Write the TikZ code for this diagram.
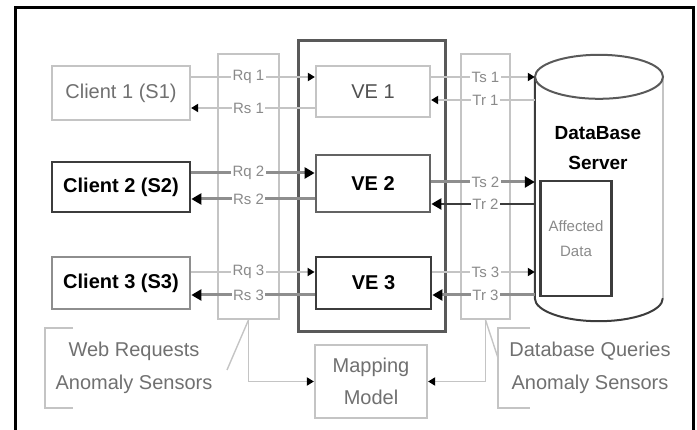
\documentclass[tikz,border=0pt]{standalone}
\usepackage{fontspec}
\setmainfont{Liberation Sans}
\usetikzlibrary{positioning, arrows.meta}

\definecolor{paleline}{HTML}{C4C4C4}
\definecolor{midline}{HTML}{8E8E8E}
\definecolor{darkline}{HTML}{3C3C3C}
\definecolor{greytext}{HTML}{707070}
\definecolor{tagtext}{HTML}{8A8A8A}

\begin{document}
\begin{tikzpicture}[
    x=1pt, y=-1pt,
    % Block Styles
    lightbox/.style={rectangle, draw=paleline, line width=2.2pt, fill=white, inner sep=0pt, align=center, text=greytext, font=\fontsize{20}{32}\selectfont},
    darkbox/.style={rectangle, draw=darkline, line width=2.8pt, fill=white, inner sep=0pt, align=center, font=\fontsize{20}{24}\selectfont\bfseries},
    column/.style={rectangle, draw=paleline, line width=1.8pt, inner sep=0pt},
    caption/.style={align=center, text=greytext, font=\fontsize{20}{33}\selectfont},
    tag/.style={fill=white, inner sep=1.5pt, text=tagtext, font=\fontsize{15}{15}\selectfont},
    % Line & Arrow Styles
    thinflow/.style={draw=paleline, line width=1.8pt, -{Triangle[length=7pt, width=8pt, color=black]}},
    thickflow/.style={draw=midline, line width=3pt, -{Triangle[length=10pt, width=11pt, color=black]}},
    darkflow/.style={draw=darkline, line width=2.6pt, -{Triangle[length=10pt, width=11pt, color=black]}},
    callout/.style={draw=paleline, line width=1.4pt}
]
    \useasboundingbox (0,0) rectangle (697,430);

    % Frame
    \draw[line width=3pt] (15,432) -- (15,8) -- (693,8) -- (693,432);

    % Sensor columns and VE container
    \node[column, minimum width=61pt, minimum height=265pt] (webcol) at (248.5,186.5) {};
    \node[column, minimum width=49pt, minimum height=265pt] (dbcol) at (485.5,186.5) {};
    \node[rectangle, draw=darkline!85, line width=3pt, minimum width=147pt, minimum height=291pt] (vebox) at (371.5,186.5) {};

    % Nodes
    \node[lightbox, minimum width=138pt, minimum height=54pt] (client1) at (121,93) {Client 1 (S1)};
    \node[darkbox, minimum width=138pt, minimum height=50pt] (client2) at (121,187) {Client 2 (S2)};
    \node[darkbox, draw=midline, minimum width=138pt, minimum height=52pt] (client3) at (121,283) {Client 3 (S3)};

    \node[lightbox, text=darkline!90, minimum width=114pt, minimum height=51pt] (ve1) at (373,91.5) {VE 1};
    \node[darkbox, draw=darkline!80, minimum width=114pt, minimum height=57pt] (ve2) at (373,183.5) {VE 2};
    \node[darkbox, minimum width=115pt, minimum height=52pt] (ve3) at (373.5,283) {VE 3};

    \node[lightbox, minimum width=112pt, minimum height=73pt] (mapping) at (371,381.5) {Mapping\\Model};

    % Database cylinder
    \node[minimum width=128pt, minimum height=221pt, inner sep=0pt] (db) at (599,187.5) {};
    \draw[paleline, line width=2pt] (db.north east) -- (db.south east);
    \draw[darkline, line width=2pt] (db.north west) -- (db.south west)
        arc[start angle=180, end angle=360, x radius=64pt, y radius=23pt];
    \draw[darkline!85, line width=2pt] (db.north) ellipse[x radius=64pt, y radius=22pt];
    \node[align=center, font=\fontsize{19}{30}\selectfont\bfseries] (dbname) at (598,148) {DataBase\\Server};
    \node[rectangle, draw=darkline, line width=2.4pt, fill=white, inner sep=0pt, minimum width=71pt, minimum height=115pt, align=center, text=tagtext, font=\fontsize{15}{25}\selectfont] (affected) at (576,238.5) {Affected\\Data};

    % Rows
    \coordinate (rq1) at (0,77);  \coordinate (rs1) at (0,108);
    \coordinate (ts1) at (0,77);  \coordinate (tr1) at (0,100);
    \coordinate (rq2) at (0,173); \coordinate (rs2) at (0,199);
    \coordinate (ts2) at (0,182); \coordinate (tr2) at (0,204);
    \coordinate (rq3) at (0,272); \coordinate (rs3) at (0,295);
    \coordinate (ts3) at (0,272); \coordinate (tr3) at (0,295);

    % Client <-> VE flows
    \draw[thinflow] (client1.east |- rq1) -- (webcol |- rq1) node[tag] {Rq 1} -- (ve1.west |- rq1);
    \draw[thinflow] (ve1.west |- rs1) -- (webcol |- rs1) node[tag] {Rs 1} -- (client1.east |- rs1);
    \draw[thickflow] (client2.east |- rq2) -- (webcol |- rq2) node[tag] {Rq 2} -- (ve2.west |- rq2);
    \draw[thickflow] (ve2.west |- rs2) -- (webcol |- rs2) node[tag] {Rs 2} -- (client2.east |- rs2);
    \draw[thinflow] (client3.east |- rq3) -- (webcol |- rq3) node[tag] {Rq 3} -- (ve3.west |- rq3);
    \draw[thickflow] (ve3.west |- rs3) -- (webcol |- rs3) node[tag] {Rs 3} -- (client3.east |- rs3);

    % VE <-> DataBase flows
    \draw[thinflow] (ve1.east |- ts1) -- (dbcol |- ts1) node[tag] {Ts 1} -- (db.west |- ts1);
    \draw[thinflow] (db.west |- tr1) -- (dbcol |- tr1) node[tag] {Tr 1} -- (ve1.east |- tr1);
    \draw[thickflow] (ve2.east |- ts2) -- (dbcol |- ts2) node[tag] {Ts 2} -- (db.west |- ts2);
    \draw[darkflow] (db.west |- tr2) -- (dbcol |- tr2) node[tag] {Tr 2} -- (ve2.east |- tr2);
    \draw[thinflow] (ve3.east |- ts3) -- (dbcol |- ts3) node[tag] {Ts 3} -- (db.west |- ts3);
    \draw[thickflow] (db.west |- tr3) -- (dbcol |- tr3) node[tag] {Tr 3} -- (ve3.east |- tr3);

    % Sensors -> Mapping Model
    \draw[thinflow] (webcol.south) |- (mapping.west);
    \draw[thinflow] (dbcol.south) |- (mapping.east);

    % Captions with brackets
    \node[caption] (webcap) at (134,368) {Web Requests\\Anomaly Sensors};
    \node[caption] (dbcap) at (590,368) {Database Queries\\Anomaly Sensors};
    \draw[callout, line width=2pt] (73,328) -- (45,328) -- (45,408) -- (73,408);
    \draw[callout, line width=2pt] (530,328) -- (498,328) -- (498,408) -- (530,408);
    \coordinate (webnote) at (227,370);
    \coordinate (dbnote) at (498,358);
    \draw[callout] (webcol.south) -- (webnote);
    \draw[callout] (dbcol.south) -- (dbnote);

\end{tikzpicture}
\end{document}
